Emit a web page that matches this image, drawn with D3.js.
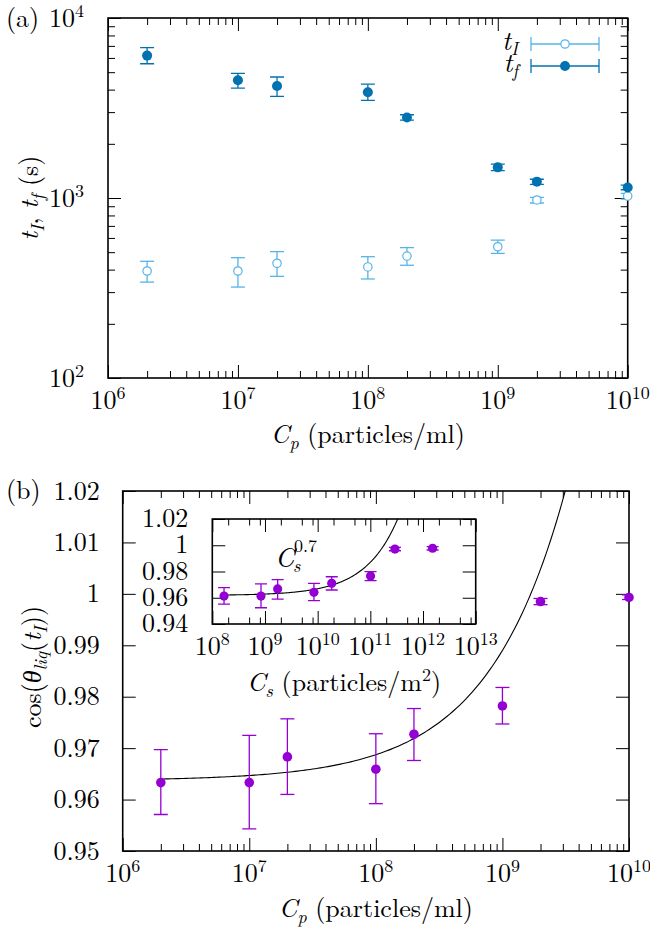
<!DOCTYPE html>
<html>
<head>
<meta charset="utf-8">
<script src="https://cdn.jsdelivr.net/npm/d3@7"></script>
<style>
  body { margin: 0; background: #fff; }
  svg { display: block; }
</style>
</head>
<body>
<svg id="fig" width="650" height="927"></svg>
<script>
// ---- data ----
// panel (a): times vs particle concentration
const cp = [2e6, 1e7, 2e7, 1e8, 2e8, 1e9, 2e9, 1e10];
const tI = [393, 393, 434, 414, 476, 536, 975, 1025];
const tILo = [341, 320, 367, 355, 423, 493, 938, 986];
const tIHi = [445, 466, 503, 472, 530, 584, 1009, 1062];
const tF = [6180, 4510, 4190, 3870, 2800, 1480, 1233, 1145];
const tFLo = [5570, 4080, 3670, 3490, 2710, 1418, 1191, 1111];
const tFHi = [6840, 4930, 4700, 4290, 2900, 1544, 1271, 1180];

// panel (b): cos(theta_liq(t_I)) vs C_p
const cosT = [0.9633, 0.9633, 0.9683, 0.9659, 0.9727, 0.9782, 0.9985, 0.9993];
const cosLo = [0.9571, 0.9543, 0.9610, 0.9592, 0.9676, 0.9747, 0.9979, 0.9989];
const cosHi = [0.9697, 0.9725, 0.9757, 0.9728, 0.9777, 0.9818, 0.9991, 0.9998];

// inset: same quantity vs surface concentration C_s
const cs = [1.67e8, 8.4e8, 1.74e9, 8.5e9, 1.85e10, 1.01e11, 2.93e11, 1.52e12];
const cosIn = [0.9613, 0.9613, 0.9667, 0.9641, 0.9710, 0.9766, 0.9971, 0.9977];
const cosInLo = [0.9552, 0.9524, 0.9590, 0.9578, 0.9659, 0.9730, 0.9958, 0.9964];
const cosInHi = [0.9677, 0.9705, 0.9738, 0.9710, 0.9760, 0.9799, 0.9984, 0.9990];

// fitted curves  a + b * C^0.7
const fitMainA = 0.96367, fitMainB = 1.269e-8;
const fitInA = 0.96181, fitInB = 5.03e-10;

// tick labels
const cosTicks = [0.95, 0.96, 0.97, 0.98, 0.99, 1.00, 1.01, 1.02];
const cosTickLabels = ["0.95", "0.96", "0.97", "0.98", "0.99", "1", "1.01", "1.02"];
const inTicks = [0.94, 0.96, 0.98, 1.00, 1.02];
const inTickLabels = ["0.94", "0.96", "0.98", "1", "1.02"];

const colI = "#56b4e9";
const colF = "#0072b2";
const colP = "#9400d3";
const FONT = "'Latin Modern Roman', 'CMU Serif', 'Liberation Serif', serif";

const svg = d3.select("#fig");

// log tick values: majors at decades, minors at given multipliers
function logTicks(lo, hi, mult) {
  const major = [], minor = [];
  const e0 = Math.round(Math.log10(lo)), e1 = Math.round(Math.log10(hi));
  for (let e = e0; e <= e1; e++) {
    major.push(Math.pow(10, e));
    if (e < e1) mult.forEach(m => minor.push(m * Math.pow(10, e)));
  }
  return { major, minor };
}

// inward ticks on all four sides, gnuplot style
function addTicks(g, axisFn, scale, values, size, shift) {
  g.append("g")
    .attr("transform", shift)
    .call(axisFn(scale).tickValues(values).tickSize(-size).tickSizeOuter(0).tickFormat(""))
    .call(a => a.select(".domain").remove())
    .selectAll("line").attr("stroke", "#000").attr("stroke-width", 1);
}

function drawFrame(g, x, y, w, h, xt, yt, majLen, minLen) {
  addTicks(g, d3.axisBottom, x, xt.major, majLen, `translate(0,${h})`);
  addTicks(g, d3.axisTop, x, xt.major, majLen, "translate(0,0)");
  if (xt.minor.length) {
    addTicks(g, d3.axisBottom, x, xt.minor, minLen, `translate(0,${h})`);
    addTicks(g, d3.axisTop, x, xt.minor, minLen, "translate(0,0)");
  }
  addTicks(g, d3.axisLeft, y, yt.major, majLen, "translate(0,0)");
  addTicks(g, d3.axisRight, y, yt.major, majLen, `translate(${w},0)`);
  if (yt.minor.length) {
    addTicks(g, d3.axisLeft, y, yt.minor, minLen, "translate(0,0)");
    addTicks(g, d3.axisRight, y, yt.minor, minLen, `translate(${w},0)`);
  }
  g.append("rect")
    .attr("width", w).attr("height", h)
    .attr("fill", "none").attr("stroke", "#000").attr("stroke-width", 1.6);
}

function powText(g, x, y, exp, anchor) {
  const t = g.append("text")
    .attr("x", x).attr("y", y)
    .attr("text-anchor", anchor)
    .attr("font-size", 26);
  t.append("tspan").text("10");
  t.append("tspan").attr("dy", -10).attr("font-size", 18).text(exp);
  return t;
}

function errorBars(g, xs, lo, hi, x, y, color, cap, clipId) {
  const eb = g.append("g").attr("clip-path", `url(#${clipId})`)
    .attr("stroke", color).attr("stroke-width", 1.3);
  xs.forEach((d, i) => {
    const px = x(d);
    eb.append("line").attr("x1", px).attr("x2", px).attr("y1", y(lo[i])).attr("y2", y(hi[i]));
    eb.append("line").attr("x1", px - cap).attr("x2", px + cap).attr("y1", y(lo[i])).attr("y2", y(lo[i]));
    eb.append("line").attr("x1", px - cap).attr("x2", px + cap).attr("y1", y(hi[i])).attr("y2", y(hi[i]));
  });
}

function clip(id, w, h) {
  svg.append("defs").append("clipPath").attr("id", id)
    .append("rect").attr("width", w).attr("height", h);
}

// sub/superscript helpers for titles
function sub(t, s, italic) {
  t.append("tspan").attr("dy", 6).attr("font-size", 18)
    .attr("font-style", italic ? "italic" : "normal").text(s);
}
function back(t, s) { t.append("tspan").attr("dy", -6).text(s); }

// ================= panel (a) =================
const pa = { left: 108, top: 18, width: 519.7, height: 360 };
const xa = d3.scaleLog().domain([1e6, 1e10]).range([0, pa.width]);
const ya = d3.scaleLog().domain([1e2, 1e4]).range([pa.height, 0]);
const ga = svg.append("g").attr("transform", `translate(${pa.left},${pa.top})`);
clip("clipA", pa.width, pa.height);

drawFrame(ga, xa, ya, pa.width, pa.height,
  logTicks(1e6, 1e10, [2, 3, 4, 5, 6, 7, 8, 9]),
  logTicks(1e2, 1e4, [2, 3, 4, 5, 6, 7, 8, 9]), 13, 7);

[6, 7, 8, 9, 10].forEach(e => powText(ga, xa(Math.pow(10, e)), pa.height + 31, e, "middle"));
[2, 3, 4].forEach(e => powText(ga, -24, ya(Math.pow(10, e)) + 8.5, e, "end"));

errorBars(ga, cp, tILo, tIHi, xa, ya, colI, 7, "clipA");
errorBars(ga, cp, tFLo, tFHi, xa, ya, colF, 7, "clipA");

ga.append("g").selectAll("circle").data(cp).join("circle")
  .attr("cx", d => xa(d)).attr("cy", (d, i) => ya(tI[i])).attr("r", 4.2)
  .attr("fill", "#fff").attr("stroke", colI).attr("stroke-width", 1.2);
ga.append("g").selectAll("circle").data(cp).join("circle")
  .attr("cx", d => xa(d)).attr("cy", (d, i) => ya(tF[i])).attr("r", 5)
  .attr("fill", colF);

// legend
const legend = [
  { sub: "I", color: colI, open: true, y: 44 },
  { sub: "f", color: colF, open: false, y: 66 }
];
legend.forEach(d => {
  const lg = svg.append("g");
  const lt = lg.append("text").attr("x", 518).attr("y", d.y + 6).attr("text-anchor", "end")
    .attr("font-size", 27);
  lt.append("tspan").attr("font-style", "italic").text("t");
  lt.append("tspan").attr("dy", 5).attr("font-size", 18).attr("font-style", "italic").text(d.sub);
  lg.append("line").attr("x1", 531).attr("x2", 599).attr("y1", d.y).attr("y2", d.y)
    .attr("stroke", d.color).attr("stroke-width", 1.3);
  [531, 599].forEach(px => lg.append("line").attr("x1", px).attr("x2", px)
    .attr("y1", d.y - 7).attr("y2", d.y + 7).attr("stroke", d.color).attr("stroke-width", 1.3));
  lg.append("circle").attr("cx", 565).attr("cy", d.y).attr("r", d.open ? 4.2 : 5)
    .attr("fill", d.open ? "#fff" : d.color)
    .attr("stroke", d.open ? d.color : "none").attr("stroke-width", 1.2);
});

// axis titles (a)
const xta = svg.append("text").attr("x", pa.left + pa.width / 2).attr("y", 443)
  .attr("text-anchor", "middle").attr("font-size", 26);
xta.append("tspan").attr("font-style", "italic").text("C");
sub(xta, "p", true);
back(xta, " (particles/ml)");

const yta = svg.append("text").attr("transform", `translate(38,${pa.top + pa.height / 2}) rotate(-90)`)
  .attr("text-anchor", "middle").attr("font-size", 26);
yta.append("tspan").attr("font-style", "italic").text("t");
sub(yta, "I", true);
back(yta, ", ");
yta.append("tspan").attr("font-style", "italic").text("t");
sub(yta, "f", true);
back(yta, " (s)");

svg.append("text").attr("x", 6).attr("y", 27).attr("font-size", 26).text("(a)");

// ================= panel (b) =================
const pb = { left: 122.7, top: 491, width: 506.3, height: 360 };
const xb = d3.scaleLog().domain([1e6, 1e10]).range([0, pb.width]);
const yb = d3.scaleLinear().domain([0.95, 1.02]).range([pb.height, 0]);
const gb = svg.append("g").attr("transform", `translate(${pb.left},${pb.top})`);
clip("clipB", pb.width, pb.height);

drawFrame(gb, xb, yb, pb.width, pb.height,
  logTicks(1e6, 1e10, [2, 3, 4, 5, 6, 7, 8, 9]),
  { major: cosTicks, minor: [] }, 13, 7);

[6, 7, 8, 9, 10].forEach(e => powText(gb, xb(Math.pow(10, e)), pb.height + 31, e, "middle"));
gb.append("g").selectAll("text").data(cosTicks).join("text")
  .attr("x", -23).attr("y", d => yb(d) + 8.5)
  .attr("text-anchor", "end").attr("font-size", 26)
  .text((d, i) => cosTickLabels[i]);

// fitted curve (main)
const fitMain = d3.range(Math.log10(2e6), 10.001, 0.02).map(e => Math.pow(10, e));
gb.append("path")
  .datum(fitMain)
  .attr("clip-path", "url(#clipB)")
  .attr("fill", "none").attr("stroke", "#000").attr("stroke-width", 1.1)
  .attr("d", d3.line().x(d => xb(d)).y(d => yb(fitMainA + fitMainB * Math.pow(d, 0.7))));

errorBars(gb, cp, cosLo, cosHi, xb, yb, colP, 7, "clipB");
gb.append("g").selectAll("circle").data(cp).join("circle")
  .attr("cx", d => xb(d)).attr("cy", (d, i) => yb(cosT[i])).attr("r", 4.8)
  .attr("fill", colP);

// ---- inset ----
const pi = { left: 212.3, top: 519, width: 263.4, height: 105 };
const xi = d3.scaleLog().domain([1e8, 1e13]).range([0, pi.width]);
const yi = d3.scaleLinear().domain([0.94, 1.02]).range([pi.height, 0]);
const gi = svg.append("g").attr("transform", `translate(${pi.left},${pi.top})`);
clip("clipI", pi.width, pi.height);

gi.append("rect").attr("width", pi.width).attr("height", pi.height).attr("fill", "#fff");
drawFrame(gi, xi, yi, pi.width, pi.height,
  logTicks(1e8, 1e13, [2, 5, 8]),
  { major: inTicks, minor: [] }, 13, 6.5);

[8, 9, 10, 11, 12, 13].forEach(e => powText(gi, xi(Math.pow(10, e)), pi.height + 31, e, "middle"));
gi.append("g").selectAll("text").data(inTicks).join("text")
  .attr("x", -24).attr("y", d => yi(d) + 8)
  .attr("text-anchor", "end").attr("font-size", 26)
  .text((d, i) => inTickLabels[i]);

const fitIn = d3.range(Math.log10(cs[0]), 13.001, 0.02).map(e => Math.pow(10, e));
gi.append("path")
  .datum(fitIn)
  .attr("clip-path", "url(#clipI)")
  .attr("fill", "none").attr("stroke", "#000").attr("stroke-width", 1.1)
  .attr("d", d3.line().x(d => xi(d)).y(d => yi(fitInA + fitInB * Math.pow(d, 0.7))));

errorBars(gi, cs, cosInLo, cosInHi, xi, yi, colP, 6, "clipI");
gi.append("g").selectAll("circle").data(cs).join("circle")
  .attr("cx", d => xi(d)).attr("cy", (d, i) => yi(cosIn[i])).attr("r", 4.6)
  .attr("fill", colP);

// C_s^0.7 label
svg.append("text").attr("x", 275).attr("y", 567).attr("font-size", 27)
  .attr("font-style", "italic").text("C");
svg.append("text").attr("x", 293).attr("y", 572).attr("font-size", 18)
  .attr("font-style", "italic").text("s");
svg.append("text").attr("x", 294).attr("y", 552).attr("font-size", 18).text("0.7");

// inset x title
const xti = svg.append("text").attr("x", pi.left + pi.width / 2).attr("y", 691)
  .attr("text-anchor", "middle").attr("font-size", 26);
xti.append("tspan").attr("font-style", "italic").text("C");
sub(xti, "s", true);
back(xti, " (particles/m");
xti.append("tspan").attr("dy", -10).attr("font-size", 18).text("2");
xti.append("tspan").attr("dy", 10).text(")");

// axis titles (b)
const xtb = svg.append("text").attr("x", pb.left + pb.width / 2).attr("y", 917)
  .attr("text-anchor", "middle").attr("font-size", 26);
xtb.append("tspan").attr("font-style", "italic").text("C");
sub(xtb, "p", true);
back(xtb, " (particles/ml)");

const ytb = svg.append("text").attr("transform", `translate(41,${pb.top + pb.height / 2 - 4}) rotate(-90)`)
  .attr("text-anchor", "middle").attr("font-size", 26);
ytb.append("tspan").text("cos(");
ytb.append("tspan").attr("font-style", "italic").text("θ");
sub(ytb, "liq", true);
back(ytb, "(");
ytb.append("tspan").attr("font-style", "italic").text("t");
sub(ytb, "I", true);
back(ytb, "))");

svg.append("text").attr("x", 6).attr("y", 499).attr("font-size", 26).text("(b)");

// Computer Modern look for every label
svg.selectAll("text").attr("font-family", FONT).attr("fill", "#000");
</script>
</body>
</html>
